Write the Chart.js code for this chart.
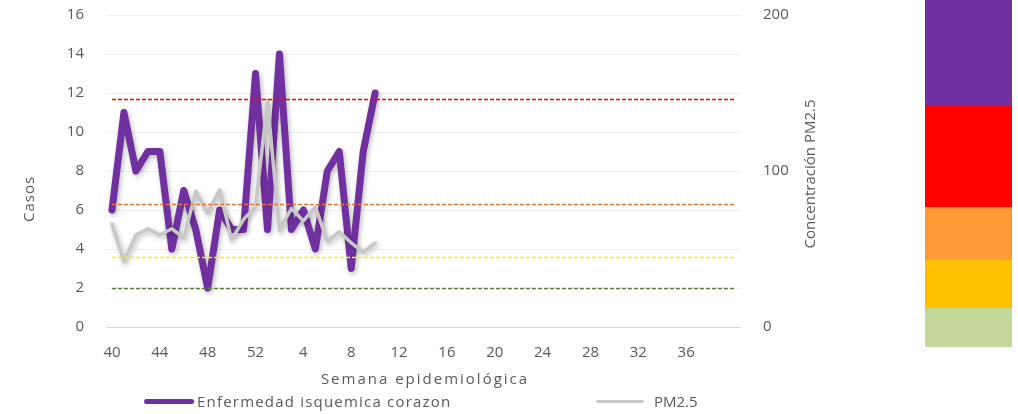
<!DOCTYPE html>
<html lang="es">
<head>
<meta charset="utf-8">
<title>Enfermedad isquémica y PM2.5 por semana epidemiológica</title>
<script src="https://cdn.jsdelivr.net/npm/chart.js@4.4.1/dist/chart.umd.min.js"></script>
<style>
  html, body { margin: 0; padding: 0; background: #ffffff; }
  #wrap { position: relative; width: 1018px; height: 414px; overflow: hidden; font-family: 'Open Sans', sans-serif; }
  #chart { position: absolute; left: 0; top: 0; }
  .legend-item { position: absolute; top: 391px; height: 20px; display: flex; align-items: center; font-size: 15px; color: #595959; white-space: nowrap; }
  .legend-line { display: inline-block; margin-right: 3px; border-radius: 3px; }
  #scaleBar { position: absolute; left: 925px; top: 0; width: 87px; }
  #scaleBar div { width: 100%; }
</style>
</head>
<body>
<div id="wrap">
  <canvas id="chart" width="1018" height="414"></canvas>

  <!-- leyenda -->
  <div class="legend-item" style="left:144px;letter-spacing:1.2px;">
    <span class="legend-line" style="width:50px;height:5px;background:#7030A0;"></span>Enfermedad isquemica corazon
  </div>
  <div class="legend-item" style="left:596px;">
    <span class="legend-line" style="width:48px;height:3px;background:#C8C8C8;margin-right:10px;"></span>PM2.5
  </div>

  <!-- barra de colores de calidad del aire -->
  <div id="scaleBar">
    <div style="height:106px;background:#7030A0;"></div>
    <div style="height:101px;background:#FF0000;"></div>
    <div style="height:53px;background:#FF9933;"></div>
    <div style="height:48px;background:#FFC000;"></div>
    <div style="height:39px;background:#C4D79B;"></div>
  </div>
</div>

<script>
// Semanas epidemiológicas (40 a 52 y luego 1 a 40)
const weeks = [40, 41, 42, 43, 44, 45, 46, 47, 48, 49, 50, 51, 52,
    1, 2, 3, 4, 5, 6, 7, 8, 9, 10, 11, 12, 13, 14, 15, 16, 17, 18, 19, 20,
    21, 22, 23, 24, 25, 26, 27, 28, 29, 30, 31, 32, 33, 34, 35, 36, 37, 38, 39, 40];

// Casos de enfermedad isquemica (eje izquierdo)
const casos = [6, 11, 8, 9, 9, 4, 7, 5, 2, 6, 5, 5, 13, 5, 14, 5, 6, 4, 8, 9, 3, 9, 12];

// Concentracion PM2.5 (eje derecho)
const pm25 = [66, 42, 59, 63, 59, 63, 57, 87, 73, 88, 56, 69, 77, 145, 62, 76, 68, 77, 55, 61, 54, 48, 54];

// Umbrales de PM2.5 (lineas punteadas)
const umbrales = [25, 45, 79, 146];
const umbralColores = ['#548235', '#F2F200', '#D9773A', '#FF0000'];

const textColor = '#595959';
const fontFamily = "'Open Sans', sans-serif";

// Sombra suave en las series, como en el original
const shadowPlugin = {
    id: 'lineShadow',
    beforeDatasetDraw(chart) {
        const ctx = chart.ctx;
        ctx.save();
        ctx.shadowColor = 'rgba(0, 0, 0, 0.28)';
        ctx.shadowBlur = 5;
        ctx.shadowOffsetX = 1.5;
        ctx.shadowOffsetY = 2;
    },
    afterDatasetDraw(chart) {
        chart.ctx.restore();
    }
};

// Lineas de umbral sobre el eje derecho
const thresholdPlugin = {
    id: 'thresholds',
    afterDatasetsDraw(chart) {
        const ctx = chart.ctx;
        const x = chart.scales.x;
        const y2 = chart.scales.y2;
        const x0 = x.getPixelForValue(0);
        const x1 = x.getPixelForValue(weeks.length - 1);
        ctx.save();
        ctx.lineWidth = 1.3;
        ctx.setLineDash([4, 2]);
        umbrales.forEach((v, i) => {
            const yy = Math.round(y2.getPixelForValue(v)) + 0.5;
            ctx.strokeStyle = umbralColores[i];
            ctx.beginPath();
            ctx.moveTo(x0, yy);
            ctx.lineTo(x1, yy);
            ctx.stroke();
        });
        ctx.restore();
    }
};

// Titulos de ejes (el derecho se lee de abajo hacia arriba)
const axisTitlePlugin = {
    id: 'axisTitles',
    afterDraw(chart) {
        const ctx = chart.ctx;
        const area = chart.chartArea;
        ctx.save();
        ctx.fillStyle = textColor;
        ctx.font = '15px ' + fontFamily;
        ctx.textAlign = 'center';
        ctx.textBaseline = 'middle';

        ctx.letterSpacing = '2px';
        ctx.fillText('Semana epidemiológica', (area.left + area.right) / 2 + 2, 380);
        ctx.letterSpacing = '0px';

        ctx.save();
        ctx.translate(30, 199);
        ctx.rotate(-Math.PI / 2);
        ctx.letterSpacing = '1px';
        ctx.fillText('Casos', 0, 0);
        ctx.restore();

        ctx.save();
        ctx.translate(811, 174);
        ctx.rotate(-Math.PI / 2);
        ctx.fillText('Concentración PM2.5', 0, 0);
        ctx.restore();

        ctx.restore();
    }
};

function renderChart() {
    const ctx = document.getElementById('chart');

    window.pmChart = new Chart(ctx.getContext('2d'), {
        type: 'line',
        data: {
            labels: weeks,
            datasets: [
                {
                    label: 'PM2.5',
                    data: pm25,
                    yAxisID: 'y2',
                    borderColor: '#C8C8C8',
                    borderWidth: 3.5,
                    pointRadius: 0,
                    tension: 0,
                    borderJoinStyle: 'round',
                    borderCapStyle: 'round',
                    order: 1
                },
                {
                    label: 'Enfermedad isquemica corazon',
                    data: casos,
                    yAxisID: 'y',
                    borderColor: '#7030A0',
                    borderWidth: 7,
                    pointRadius: 0,
                    tension: 0,
                    borderJoinStyle: 'round',
                    borderCapStyle: 'round',
                    order: 2
                }
            ]
        },
        options: {
            responsive: false,
            animation: false,
            layout: {
                padding: { top: 15, right: 0, bottom: 0, left: 0 }
            },
            plugins: {
                legend: { display: false },
                tooltip: { enabled: false }
            },
            scales: {
                x: {
                    type: 'category',
                    offset: true,
                    grid: { display: false, drawTicks: false },
                    border: { display: true, color: '#D9D9D9', width: 1 },
                    ticks: {
                        autoSkip: false,
                        maxRotation: 0,
                        padding: 17,
                        color: textColor,
                        font: { family: fontFamily, size: 15 },
                        callback: function(value, index) {
                            if (index % 4 === 0 && index < weeks.length - 1) {
                                return String(weeks[index]);
                            }
                            return '';
                        }
                    },
                    afterFit: function(scale) { scale.height = 87; }
                },
                y: {
                    position: 'left',
                    min: 0,
                    max: 16,
                    grid: {
                        color: '#EEEEEE',
                        lineWidth: 1,
                        drawTicks: true,
                        tickLength: 20,
                        tickColor: 'rgba(0, 0, 0, 0)'
                    },
                    border: { display: false },
                    ticks: {
                        stepSize: 2,
                        padding: 2,
                        color: textColor,
                        font: { family: fontFamily, size: 15 }
                    },
                    afterFit: function(scale) { scale.width = 106; }
                },
                y2: {
                    position: 'right',
                    min: 0,
                    max: 200,
                    grid: {
                        drawOnChartArea: false,
                        drawTicks: true,
                        tickLength: 21,
                        color: 'rgba(0, 0, 0, 0)'
                    },
                    border: { display: false },
                    ticks: {
                        stepSize: 100,
                        padding: 2,
                        color: textColor,
                        font: { family: fontFamily, size: 15 }
                    },
                    afterFit: function(scale) { scale.width = 278; }
                }
            }
        },
        plugins: [shadowPlugin, thresholdPlugin, axisTitlePlugin]
    });
}

document.addEventListener('DOMContentLoaded', renderChart);
</script>
</body>
</html>
